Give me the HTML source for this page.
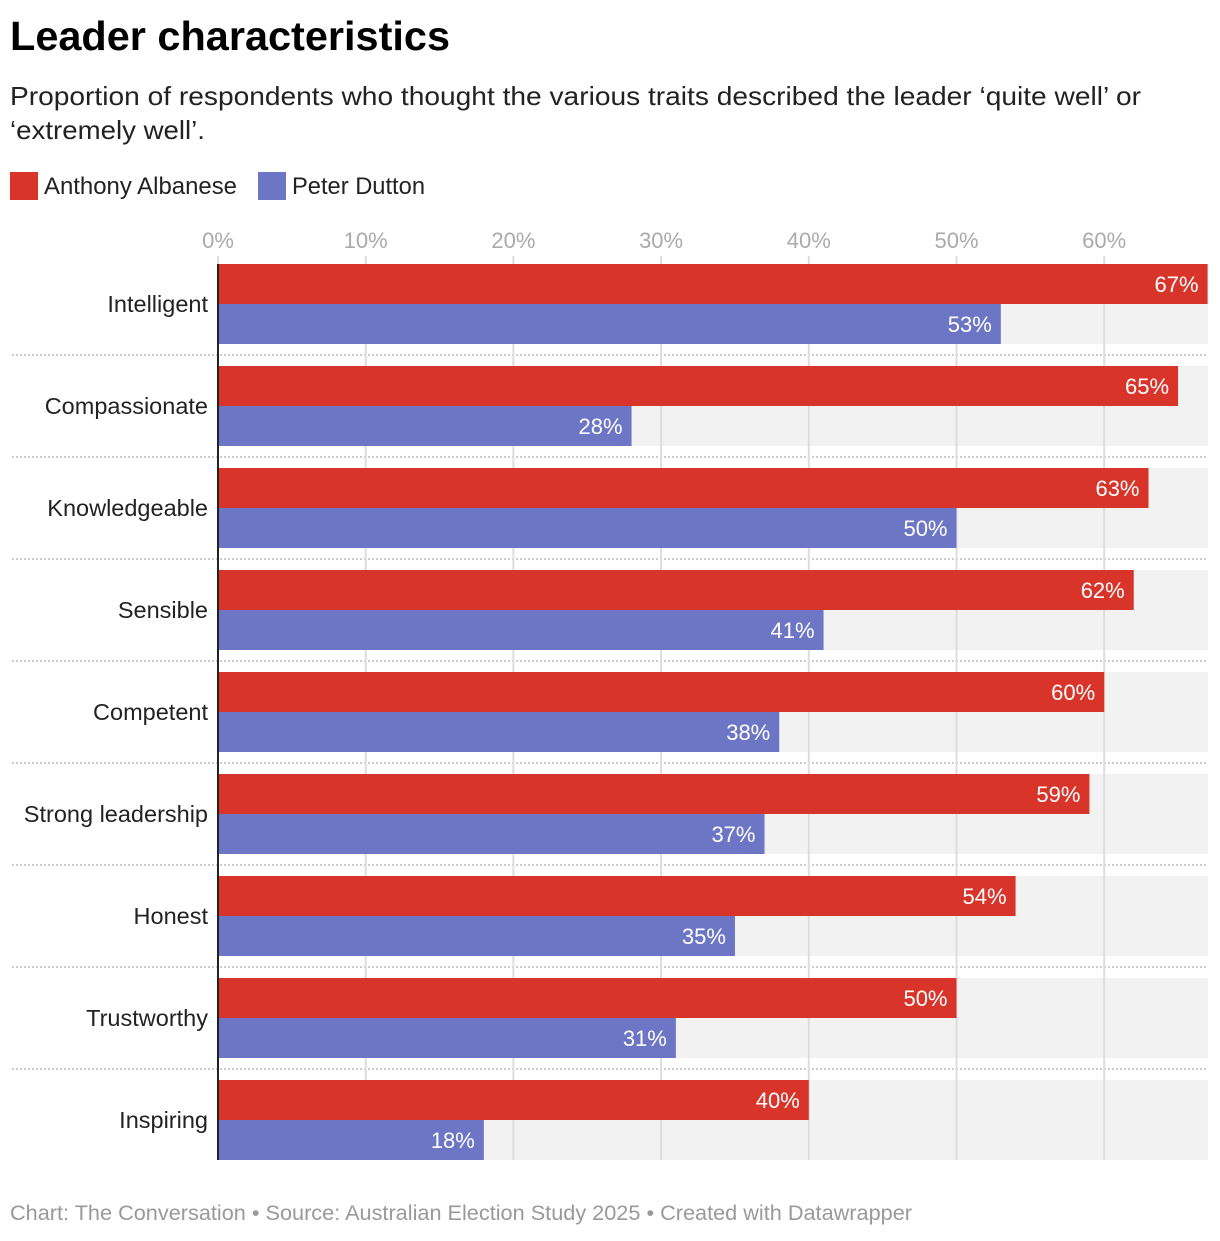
<!DOCTYPE html>
<html><head><meta charset="utf-8"><style>
body{margin:0;background:#fff;font-family:"Liberation Sans",sans-serif;}
</style></head><body>
<svg width="1220" height="1236" xmlns="http://www.w3.org/2000/svg" style="font-family:'Liberation Sans',sans-serif">
<text x="10" y="50" font-size="41" font-weight="bold" fill="#000" textLength="440" lengthAdjust="spacingAndGlyphs">Leader characteristics</text>
<text x="10" y="105" font-size="26" fill="#222" textLength="1131" lengthAdjust="spacingAndGlyphs">Proportion of respondents who thought the various traits described the leader ‘quite well’ or</text>
<text x="10" y="139" font-size="26" fill="#222" textLength="195" lengthAdjust="spacingAndGlyphs">‘extremely well’.</text>
<rect x="10" y="172" width="28" height="28" fill="#d8342a"/>
<text x="44" y="194" font-size="24" fill="#222" textLength="193" lengthAdjust="spacingAndGlyphs">Anthony Albanese</text>
<rect x="258" y="172" width="28" height="28" fill="#6d76c5"/>
<text x="292" y="194" font-size="24" fill="#222" textLength="133" lengthAdjust="spacingAndGlyphs">Peter Dutton</text>
<g id="plot"></g>
<text x="10" y="1220" font-size="21" fill="#999" textLength="902" lengthAdjust="spacingAndGlyphs">Chart: The Conversation • Source: Australian Election Study 2025 • Created with Datawrapper</text>
</svg>
<script>
const categories=["Intelligent","Compassionate","Knowledgeable","Sensible","Competent","Strong leadership","Honest","Trustworthy","Inspiring"];
const albanese=[67,65,63,62,60,59,54,50,40];
const dutton=[53,28,50,41,38,37,35,31,18];
const ticks=[0,10,20,30,40,50,60];
const NS="http://www.w3.org/2000/svg";
const g=document.getElementById('plot');
const x0=218,pxPer=14.77,maxX=1208,top0=264,pitch=102,bh=40;
const X=v=>x0+v*pxPer;
function el(t,a){const e=document.createElementNS(NS,t);for(const k in a)e.setAttribute(k,a[k]);g.appendChild(e);return e;}
categories.forEach((c,i)=>{const y=top0+i*pitch;
 const bg=el('rect',{x:x0,y:y,width:maxX-x0,height:bh*2,fill:'#f2f2f2'});
 
 
 if(i<categories.length-1){const s=el('line',{x1:12,x2:maxX,y1:y+bh*2+11,y2:y+bh*2+11,stroke:'#ccc','stroke-width':2,'stroke-dasharray':'2,2'});
 
 }
});
ticks.forEach(t=>{
 const l=el('line',{x1:X(t),x2:X(t),y1:256,y2:1160,stroke:'#ddd','stroke-width':2});
 
 
 const tx=el('text',{x:X(t),y:248,'font-size':22,fill:'#aaa','text-anchor':'middle'});tx.textContent=t+'%';
 
 
});
categories.forEach((c,i)=>{const y=top0+i*pitch;
 const lab=el('text',{x:208,y:y+bh+8,'font-size':23.5,fill:'#222','text-anchor':'end'});lab.textContent=c;
 
 
 [[albanese[i],'#d8342a',y,'bar-albanese'],[dutton[i],'#6d76c5',y+bh,'bar-dutton']].forEach(([v,col,yy,n])=>{
  const r=el('rect',{x:x0,y:yy,width:X(v)-x0,height:bh,fill:col});
  
  
  const t=el('text',{x:X(v)-9,y:yy+28,'font-size':22,fill:'#fff','text-anchor':'end'});t.textContent=v+'%';
  
  
 });
});
const ax=el('line',{x1:218,x2:218,y1:264,y2:1160,stroke:'#222','stroke-width':2});


</script>
</body></html>
